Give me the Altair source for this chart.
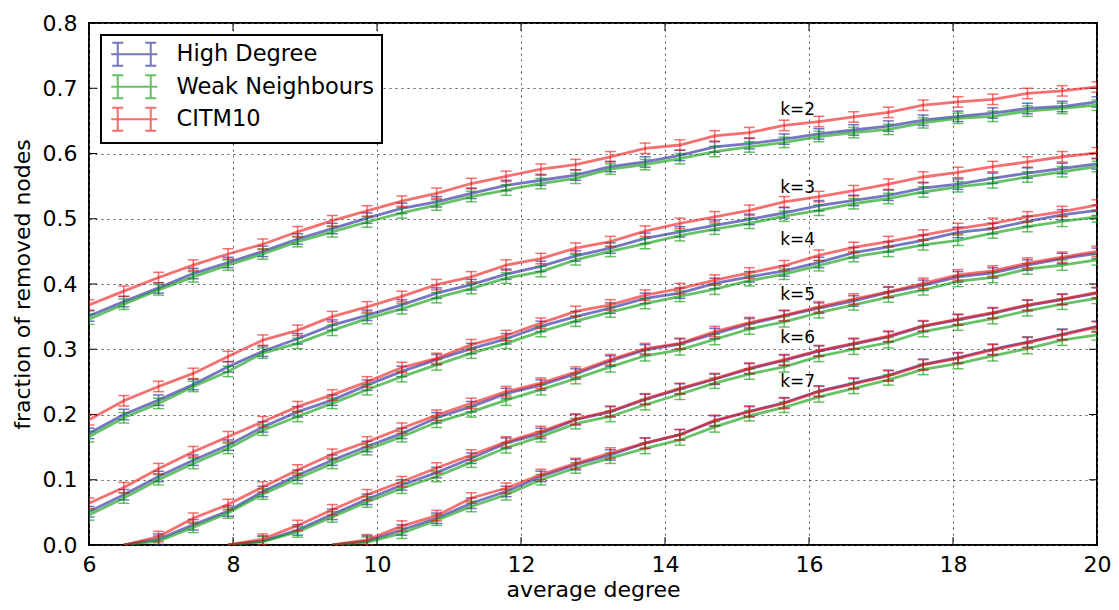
import altair as alt
import pandas as pd

# ---------------- data ----------------
X = [6.000, 6.483, 6.966, 7.448, 7.931, 8.414, 8.897, 9.379, 9.862, 10.345,
     10.828, 11.310, 11.793, 12.276, 12.759, 13.241, 13.724, 14.207, 14.690, 15.172,
     15.655, 16.138, 16.621, 17.103, 17.586, 18.069, 18.552, 19.034, 19.517, 20.000]

SERIES = ["High Degree", "Weak Neighbours", "CITM10"]
COLORS = ["#1a1a99", "#009900", "#ee1111"]

N = None
K2_HD = [0.351, 0.373, 0.394, 0.416, 0.433, 0.450, 0.469, 0.485, 0.501, 0.516, 0.526, 0.539, 0.551, 0.559, 0.567, 0.580, 0.587, 0.597, 0.610, 0.615, 0.622, 0.630, 0.636, 0.642, 0.651, 0.657, 0.662, 0.669, 0.672, 0.679]
K2_WN = [0.346, 0.369, 0.391, 0.411, 0.429, 0.446, 0.465, 0.480, 0.495, 0.509, 0.521, 0.534, 0.544, 0.554, 0.562, 0.576, 0.583, 0.592, 0.603, 0.610, 0.617, 0.626, 0.632, 0.637, 0.647, 0.654, 0.657, 0.665, 0.669, 0.674]
K2_CI = [0.368, 0.389, 0.410, 0.429, 0.446, 0.461, 0.480, 0.497, 0.512, 0.527, 0.539, 0.554, 0.565, 0.576, 0.583, 0.595, 0.608, 0.613, 0.627, 0.632, 0.643, 0.649, 0.656, 0.663, 0.674, 0.679, 0.683, 0.692, 0.696, 0.702]

K3_HD = [0.171, 0.200, 0.222, 0.246, 0.273, 0.297, 0.316, 0.337, 0.352, 0.368, 0.386, 0.399, 0.415, 0.427, 0.443, 0.455, 0.470, 0.480, 0.490, 0.499, 0.509, 0.520, 0.528, 0.536, 0.547, 0.553, 0.562, 0.570, 0.577, 0.584]
K3_WN = [0.166, 0.195, 0.217, 0.243, 0.266, 0.294, 0.309, 0.329, 0.347, 0.362, 0.379, 0.393, 0.409, 0.419, 0.437, 0.450, 0.462, 0.474, 0.484, 0.493, 0.504, 0.513, 0.523, 0.531, 0.541, 0.549, 0.555, 0.564, 0.572, 0.580]
K3_CI = [0.192, 0.221, 0.243, 0.263, 0.289, 0.314, 0.329, 0.350, 0.365, 0.381, 0.399, 0.411, 0.429, 0.439, 0.455, 0.465, 0.481, 0.493, 0.503, 0.513, 0.526, 0.534, 0.543, 0.553, 0.564, 0.571, 0.580, 0.587, 0.595, 0.601]

K4_HD = [0.051, 0.077, 0.105, 0.130, 0.153, 0.181, 0.204, 0.222, 0.245, 0.266, 0.284, 0.301, 0.316, 0.335, 0.350, 0.363, 0.378, 0.386, 0.401, 0.411, 0.420, 0.433, 0.448, 0.457, 0.467, 0.479, 0.485, 0.496, 0.506, 0.513]
K4_WN = [0.046, 0.072, 0.100, 0.125, 0.148, 0.176, 0.197, 0.217, 0.238, 0.258, 0.276, 0.294, 0.309, 0.327, 0.343, 0.357, 0.370, 0.381, 0.392, 0.405, 0.415, 0.428, 0.442, 0.450, 0.460, 0.467, 0.478, 0.488, 0.496, 0.503]
K4_CI = [0.064, 0.088, 0.117, 0.143, 0.166, 0.189, 0.212, 0.230, 0.250, 0.272, 0.286, 0.307, 0.321, 0.340, 0.358, 0.368, 0.383, 0.393, 0.406, 0.417, 0.428, 0.444, 0.456, 0.465, 0.475, 0.485, 0.493, 0.503, 0.511, 0.521]

K5_HD = [N, 0.0, 0.009, 0.031, 0.052, 0.082, 0.107, 0.130, 0.151, 0.171, 0.195, 0.212, 0.232, 0.245, 0.262, 0.282, 0.299, 0.308, 0.324, 0.339, 0.351, 0.363, 0.374, 0.387, 0.398, 0.411, 0.417, 0.429, 0.439, 0.447]
K5_WN = [N, 0.0, 0.006, 0.027, 0.049, 0.078, 0.102, 0.125, 0.146, 0.166, 0.188, 0.204, 0.222, 0.238, 0.255, 0.273, 0.290, 0.299, 0.315, 0.331, 0.342, 0.356, 0.368, 0.380, 0.391, 0.404, 0.410, 0.423, 0.429, 0.437]
K5_CI = [N, 0.0, 0.013, 0.041, 0.062, 0.089, 0.115, 0.139, 0.158, 0.179, 0.199, 0.217, 0.235, 0.248, 0.265, 0.284, 0.301, 0.309, 0.327, 0.341, 0.352, 0.365, 0.377, 0.388, 0.401, 0.414, 0.420, 0.432, 0.441, 0.450]

K6_HD = [N, N, N, N, 0.0, 0.006, 0.023, 0.047, 0.070, 0.092, 0.111, 0.133, 0.156, 0.171, 0.192, 0.204, 0.223, 0.239, 0.254, 0.270, 0.283, 0.297, 0.308, 0.319, 0.335, 0.345, 0.355, 0.367, 0.376, 0.386]
K6_WN = [N, N, N, N, 0.0, 0.005, 0.020, 0.043, 0.066, 0.087, 0.105, 0.127, 0.149, 0.166, 0.186, 0.197, 0.215, 0.231, 0.248, 0.262, 0.273, 0.289, 0.300, 0.310, 0.327, 0.337, 0.347, 0.359, 0.369, 0.378]
K6_CI = [N, N, N, N, 0.0, 0.009, 0.030, 0.054, 0.077, 0.097, 0.118, 0.138, 0.158, 0.174, 0.193, 0.205, 0.224, 0.240, 0.255, 0.271, 0.284, 0.298, 0.309, 0.320, 0.336, 0.346, 0.356, 0.368, 0.377, 0.387]

K7_HD = [N, N, N, N, N, N, N, 0.0, 0.006, 0.023, 0.041, 0.064, 0.082, 0.105, 0.123, 0.138, 0.156, 0.169, 0.190, 0.205, 0.218, 0.236, 0.248, 0.260, 0.277, 0.287, 0.300, 0.311, 0.323, 0.335]
K7_WN = [N, N, N, N, N, N, N, 0.0, 0.004, 0.018, 0.038, 0.059, 0.077, 0.100, 0.118, 0.133, 0.148, 0.161, 0.181, 0.198, 0.211, 0.227, 0.240, 0.253, 0.269, 0.278, 0.290, 0.301, 0.314, 0.322]
K7_CI = [N, N, N, N, N, N, N, 0.0, 0.008, 0.029, 0.045, 0.072, 0.087, 0.108, 0.125, 0.141, 0.156, 0.169, 0.191, 0.204, 0.217, 0.235, 0.247, 0.259, 0.276, 0.286, 0.299, 0.310, 0.322, 0.334]

ERR = 0.008

K_LABELS = ["k=2", "k=3", "k=4", "k=5", "k=6", "k=7"]
K_LABEL_X = [15.6, 15.6, 15.6, 15.6, 15.6, 15.6]
K_LABEL_Y = [0.659, 0.539, 0.460, 0.375, 0.310, 0.242]

XTICKS = [6, 8, 10, 12, 14, 16, 18, 20]
YTICKS = [0.0, 0.1, 0.2, 0.3, 0.4, 0.5, 0.6, 0.7, 0.8]

# ---------------- table ----------------
groups = {
    2: (K2_HD, K2_WN, K2_CI), 3: (K3_HD, K3_WN, K3_CI), 4: (K4_HD, K4_WN, K4_CI),
    5: (K5_HD, K5_WN, K5_CI), 6: (K6_HD, K6_WN, K6_CI), 7: (K7_HD, K7_WN, K7_CI),
}
rows = []
for k, lists in groups.items():
    for s, vals in zip(SERIES, lists):
        for x, v in zip(X, vals):
            if v is not None:
                rows.append({"x": x, "v": v, "series": s, "k": k})
df = pd.DataFrame(rows)
lab_df = pd.DataFrame({"x": K_LABEL_X, "v": K_LABEL_Y, "label": K_LABELS})
xt_df = pd.DataFrame({"x": XTICKS})
yt_df = pd.DataFrame({"v": YTICKS})

# ---------------- styling ----------------
W, H = 1008, 522
FONT = "DejaVu Sans"
TICK = 8

xs = alt.Scale(domain=[6, 20], nice=False, zero=False)
ys = alt.Scale(domain=[0, 0.8], nice=False)

xaxis = alt.Axis(values=XTICKS, format="d", title="average degree", grid=True,
                 gridDash=[2, 4], gridColor="#555555", gridWidth=1, ticks=False,
                 domain=False, labelFontSize=22, labelFont=FONT, labelColor="black",
                 labelPadding=9, labelFlush=False, titleFontSize=22, titleFont=FONT,
                 titleFontWeight="normal", titleColor="black", titleY=51,
                 titleBaseline="alphabetic")
yaxis = alt.Axis(values=YTICKS, format=".1f", title="fraction of removed nodes",
                 grid=True, gridDash=[2, 4], gridColor="#555555", gridWidth=1,
                 ticks=False, domain=False, labelFontSize=22, labelFont=FONT,
                 labelColor="black", labelPadding=12, labelFlush=False,
                 titleFontSize=22, titleFont=FONT, titleFontWeight="normal",
                 titleColor="black", titleX=-67, titleY=H / 2,
                 titleAlign="center", titleBaseline="middle")

XE = alt.X("x:Q", scale=xs, axis=xaxis)
YE = alt.Y("v:Q", scale=ys, axis=yaxis)

# errorbar-like legend glyph (drawn wider than its nominal unit box)
PATH = ("M-2.3,0L2.3,0"
        "M-1.65,-1.15L-1.65,1.15M1.65,-1.15L1.65,1.15"
        "M-2.2,-1.15L-1.1,-1.15M-2.2,1.15L-1.1,1.15"
        "M1.1,-1.15L2.2,-1.15M1.1,1.15L2.2,1.15")

legend = alt.Legend(title=None, orient="none", legendX=12, legendY=12,
                    labelFontSize=22.5, labelFont=FONT, labelColor="black",
                    symbolType=PATH, symbolSize=400, symbolStrokeWidth=2,
                    symbolOpacity=0.6, symbolFillColor="transparent",
                    symbolOffset=14, labelOffset=31, padding=8,
                    strokeColor="black", fillColor="white", rowPadding=0.5,
                    labelLimit=400)

cscale = alt.Scale(domain=SERIES, range=COLORS)

layers = []
for s in SERIES:
    base = alt.Chart(df).transform_filter(alt.datum.series == s)
    line = base.mark_line(strokeWidth=2.8, strokeOpacity=0.6, clip=True).encode(
        x=XE, y=YE, detail="k:N",
        color=alt.Color("series:N", scale=cscale, legend=legend))
    bars = base.transform_filter(alt.datum.v > 0).transform_calculate(
        lo=alt.datum.v - ERR, hi=alt.datum.v + ERR)
    rule = bars.mark_rule(strokeWidth=1.5, opacity=0.6, clip=True).encode(
        x=XE, y=alt.Y("lo:Q", scale=ys, axis=yaxis), y2="hi:Q",
        color=alt.Color("series:N", scale=cscale, legend=None))
    caps = bars.transform_fold(["lo", "hi"], as_=["end", "yv"]).mark_tick(
        orient="horizontal", size=11, thickness=1.5, opacity=0.6, clip=True).encode(
        x=XE, y=alt.Y("yv:Q", scale=ys, axis=yaxis),
        color=alt.Color("series:N", scale=cscale, legend=None))
    layers += [line, rule, caps]

labels = alt.Chart(lab_df).mark_text(align="left", baseline="alphabetic",
                                     fontSize=17, font=FONT, color="black").encode(
    x=XE, y=YE, text="label:N")

tick_left = alt.Chart(yt_df).mark_rule(color="black", strokeWidth=1).encode(
    y=YE, x=alt.value(0), x2=alt.value(TICK))
tick_right = alt.Chart(yt_df).mark_rule(color="black", strokeWidth=1).encode(
    y=YE, x=alt.value(W - TICK), x2=alt.value(W))
tick_bottom = alt.Chart(xt_df).mark_rule(color="black", strokeWidth=1).encode(
    x=XE, y=alt.value(H), y2=alt.value(H - TICK))
tick_top = alt.Chart(xt_df).mark_rule(color="black", strokeWidth=1).encode(
    x=XE, y=alt.value(0), y2=alt.value(TICK))

chart = alt.layer(tick_left, tick_right, tick_bottom, tick_top, *layers, labels).properties(
    width=W, height=H,
    autosize=alt.AutoSizeParams(type="none"),
    padding={"left": 81, "top": 15, "right": 14, "bottom": 57},
    background="white",
).configure_view(stroke="black", strokeWidth=2).configure_legend(strokeWidth=2)

chart.save("out.html", embed_options={"renderer": "svg", "actions": False})
